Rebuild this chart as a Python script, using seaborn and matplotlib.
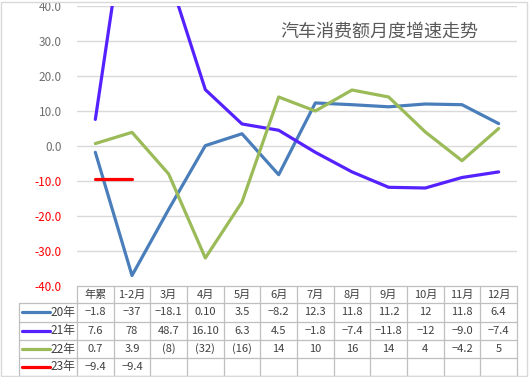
import matplotlib
matplotlib.use('Agg')
import matplotlib.pyplot as plt
import seaborn as sns
import pandas as pd
import numpy as np
from matplotlib.transforms import blended_transform_factory
from matplotlib.lines import Line2D
from matplotlib.patches import Rectangle

# ---------------- data ----------------
categories = ['年累', '1-2月', '3月', '4月', '5月', '6月', '7月', '8月', '9月', '10月', '11月', '12月']
series_names = ['20年', '21年', '22年', '23年']
v20 = [-1.8, -37, -18.1, 0.10, 3.5, -8.2, 12.3, 11.8, 11.2, 12, 11.8, 6.4]
v21 = [7.6, 78, 48.7, 16.10, 6.3, 4.5, -1.8, -7.4, -11.8, -12, -9.0, -7.4]
v22 = [0.7, 3.9, -8, -32, -16, 14, 10, 16, 14, 4, -4.2, 5]
v23 = [-9.4, -9.4, None, None, None, None, None, None, None, None, None, None]
t20 = ['−1.8', '−37', '−18.1', '0.10', '3.5', '−8.2', '12.3', '11.8', '11.2', '12', '11.8', '6.4']
t21 = ['7.6', '78', '48.7', '16.10', '6.3', '4.5', '−1.8', '−7.4', '−11.8', '−12', '−9.0', '−7.4']
t22 = ['0.7', '3.9', '(8)', '(32)', '(16)', '14', '10', '16', '14', '4', '−4.2', '5']
t23 = ['−9.4', '−9.4', '', '', '', '', '', '', '', '', '', '']
colors = ['#4A7EBB', '#5522FF', '#9BBB59', '#FF0000']
yticks = [40, 30, 20, 10, 0, -10, -20, -30, -40]
title = '汽车消费额月度增速走势'

rows = []
for name, vals in zip(series_names, [v20, v21, v22, v23]):
    for i, v in enumerate(vals):
        rows.append({'series': name, 'idx': i, 'value': np.nan if v is None else v})
df = pd.DataFrame(rows)

sns.set_theme(style='white')
plt.rcParams['font.family'] = ['Noto Sans CJK SC', 'DejaVu Sans']

W, H = 529, 377
fig = plt.figure(figsize=(W / 100, H / 100), dpi=100)
ax_left, ax_right, ax_top, ax_bottom = 77, 517, 6, 286
ax = fig.add_axes([ax_left / W, 1 - ax_bottom / H, (ax_right - ax_left) / W, (ax_bottom - ax_top) / H])

sns.lineplot(data=df, x='idx', y='value', hue='series', hue_order=series_names,
             palette=dict(zip(series_names, colors)), linewidth=2.3, legend=False,
             ax=ax, sort=False)

ax.set_xlim(-0.5, len(categories) - 0.5)
ax.set_ylim(-40, 40)
ax.set_yticks(yticks)
ax.set_yticklabels([f'{t:.1f}' for t in yticks])
for lbl, t in zip(ax.get_yticklabels(), yticks):
    lbl.set_color('#FF0000' if t < 0 else '#707070')
    lbl.set_fontsize(8.5)
ax.tick_params(axis='y', length=0, pad=11)
ax.set_xticks([])
ax.set_xlabel('')
ax.set_ylabel('')
for s in ax.spines.values():
    s.set_visible(False)
for t in yticks:
    if t > -40:
        ax.axhline(t, color='#D9D9D9', linewidth=1, zorder=0)

ax.text(0.688, 0.91, title, transform=ax.transAxes, ha='center', va='center',
        fontsize=13, color='#595959')

# ---------------- data table ----------------
tr = blended_transform_factory(ax.transData, fig.transFigure)
def fy(py):
    return 1 - py / H
grid_c = '#BFBFBF'
col_w = (ax_right - ax_left) / len(categories)
leg_left = -0.5 + (19 - ax_left) / col_w
row_edges = [286, 303, 321.5, 340, 358, 375.5]

def hline(x0, x1, py):
    ax.add_line(Line2D([x0, x1], [fy(py), fy(py)], transform=tr, color=grid_c, lw=0.9, clip_on=False))
def vline(x, py0, py1):
    ax.add_line(Line2D([x, x], [fy(py0), fy(py1)], transform=tr, color=grid_c, lw=0.9, clip_on=False))

right = len(categories) - 0.5
hline(-0.5, right, row_edges[0])
for py in row_edges[1:]:
    hline(leg_left, right, py)
vline(leg_left, row_edges[1], row_edges[-1])
for i in range(len(categories) + 1):
    vline(-0.5 + i, row_edges[0], row_edges[-1])

fs = 8
for i, c in enumerate(categories):
    ax.text(i, fy((row_edges[0] + row_edges[1]) / 2), c, transform=tr, ha='center', va='center',
            fontsize=fs, color='#404040')
for r, (name, col, texts) in enumerate(zip(series_names, colors, [t20, t21, t22, t23])):
    cy = fy((row_edges[r + 1] + row_edges[r + 2]) / 2)
    x0 = -0.5 + (22 - ax_left) / col_w
    x1 = -0.5 + (50 - ax_left) / col_w
    ax.add_line(Line2D([x0, x1], [cy, cy], transform=tr, color=col, lw=2.3, clip_on=False))
    ax.text(-0.5 - 2 / col_w, cy, name, transform=tr, ha='right', va='center', fontsize=fs + 0.5,
            color='#404040')
    for i, t in enumerate(texts):
        ax.text(i, cy, t, transform=tr, ha='center', va='center', fontsize=fs, color='#404040')

fig.add_artist(Rectangle((1 / W, 1 / H), 1 - 3 / W, 1 - 3 / H, transform=fig.transFigure,
                         fill=False, edgecolor='#D9D9D9', lw=1))

fig.savefig('out.png', dpi=100)
